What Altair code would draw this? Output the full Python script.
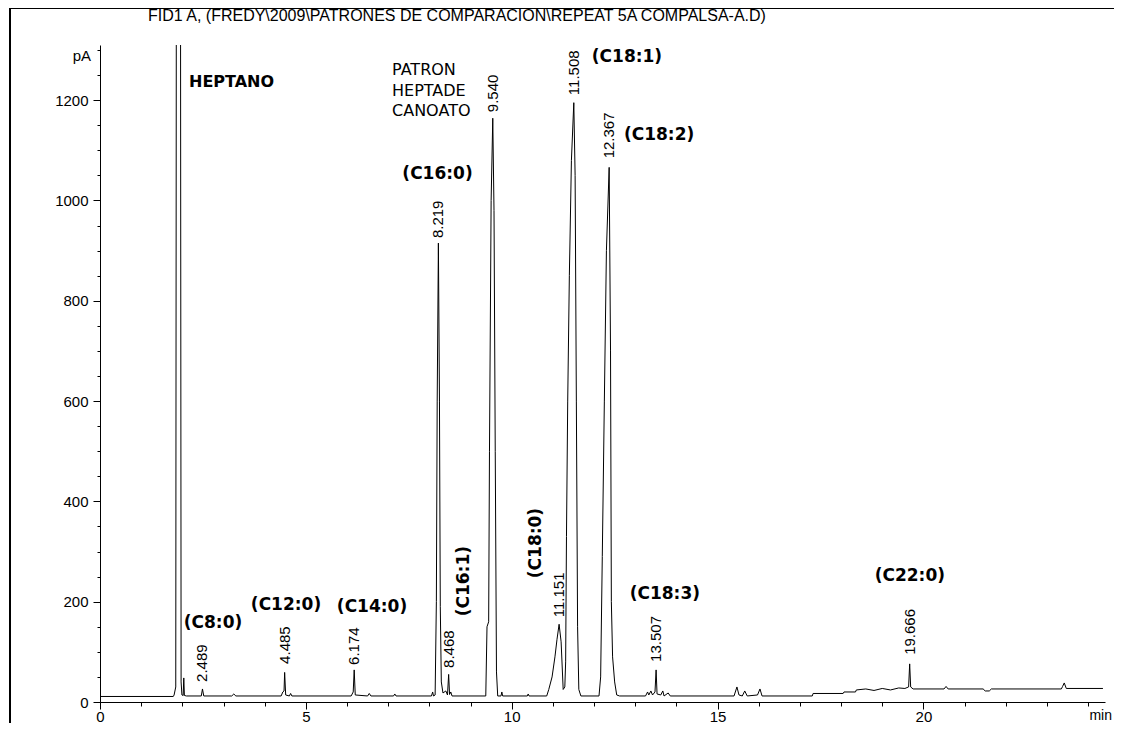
import altair as alt
import pandas as pd

# ---- chromatogram trace (retention time in min, signal in pA)
time_min = [0.0, 1.78, 1.80, 1.84, 1.855, 1.955, 1.97, 1.99, 2.02, 2.035, 2.05, 2.10,
            2.46, 2.489, 2.52, 3.20, 3.25, 3.30, 4.40, 4.44, 4.47, 4.485, 4.51, 4.60,
            4.63, 4.66, 6.10, 6.15, 6.174, 6.20, 6.50, 6.54, 6.58, 7.13, 7.16, 7.19,
            8.05, 8.08, 8.10, 8.14, 8.17, 8.19, 8.219, 8.245, 8.265, 8.29, 8.33, 8.40,
            8.44, 8.468, 8.49, 8.52, 8.55, 9.37, 9.40, 9.44, 9.46, 9.50, 9.54, 9.57,
            9.60, 9.63, 9.66, 9.74, 9.76, 9.78, 10.38, 10.40, 10.42, 10.85, 10.90, 10.98,
            11.05, 11.10, 11.151, 11.20, 11.25, 11.29, 11.31, 11.33, 11.36, 11.40, 11.45, 11.508,
            11.54, 11.57, 11.60, 11.63, 11.68, 12.12, 12.16, 12.20, 12.25, 12.30, 12.367, 12.40,
            12.42, 12.45, 12.50, 12.55, 12.62, 13.25, 13.30, 13.33, 13.38, 13.42, 13.48, 13.507,
            13.53, 13.62, 13.67, 13.70, 13.80, 13.85, 15.40, 15.47, 15.52, 15.60, 15.66, 15.72,
            15.97, 16.03, 16.08, 17.30, 17.32, 18.05, 18.07, 18.35, 18.37, 18.60, 18.80, 19.00,
            19.20, 19.40, 19.55, 19.64, 19.666, 19.69, 19.75, 20.50, 20.55, 20.60, 21.45, 21.50,
            21.60, 21.65, 23.35, 23.38, 23.42, 23.47, 24.36]
signal_pa = [11, 11, 14, 30, 1500, 1500, 40, 14, 13, 48, 13, 12,
             12, 26, 12, 12, 16, 12, 12, 20, 22, 59, 14, 12,
             17, 12, 12, 20, 64, 14, 12, 17, 12, 12, 16, 12,
             12, 20, 12, 14, 200, 600, 915, 600, 190, 40, 18, 22,
             14, 55, 15, 20, 12, 12, 150, 160, 500, 1000, 1164, 980,
             500, 60, 12, 12, 20, 12, 12, 16, 12, 12, 25, 50,
             90, 125, 155, 120, 25, 30, 80, 330, 600, 850, 1080, 1195,
             1050, 600, 150, 25, 12, 12, 50, 290, 600, 900, 1066, 700,
             200, 90, 40, 14, 12, 12, 20, 14, 22, 14, 20, 64,
             16, 14, 22, 12, 18, 12, 12, 30, 14, 12, 22, 12,
             14, 26, 12, 12, 17, 17, 20, 20, 24, 26, 23, 27,
             24, 28, 27, 30, 76, 30, 26, 26, 31, 26, 26, 22,
             22, 26, 26, 31, 38, 27, 27]

# ---- retention-time labels
rt_text = ["2.489", "4.485", "6.174", "8.219", "8.468", "9.540", "11.151", "11.508",
           "12.367", "13.507", "19.666"]
rt_time = [2.489, 4.485, 6.174, 8.219, 8.468, 9.540, 11.151, 11.508, 12.367, 13.507, 19.666]
rt_anchor = [40, 76, 74, 925, 68, 1176, 169, 1210, 1084, 80, 94]

# ---- compound labels (horizontal)
cmp_text = ["(C8:0)", "(C12:0)", "(C14:0)", "(C16:0)", "(C18:1)", "(C18:2)", "(C18:3)", "(C22:0)"]
cmp_time = [2.745, 4.518, 6.607, 8.198, 12.80, 13.58, 13.72, 19.67]
cmp_val = [157, 193, 189, 1052, 1286, 1130, 215, 251]

# ---- compound labels (vertical)
vcmp_text = ["(C16:1)", "(C18:0)"]
vcmp_time = [8.841, 10.59]
vcmp_val = [241, 317]

# ---- other annotations
solvent_text = ["HEPTANO"]
solvent_time = [2.162]
solvent_val = [1236]
std_text = ["PATRON", "HEPTADE", "CANOATO"]
std_time = [7.093, 7.093, 7.093]
std_val = [1260, 1218, 1178]

title_text = "FID1 A, (FREDY\\2009\\PATRONES DE COMPARACIÓN\\REPEAT 5A COMPALSA-A.D)"

x_major = [0, 5, 10, 15, 20]
x_minor = list(range(0, 25))
y_major = [0, 200, 400, 600, 800, 1000, 1200]
y_minor = list(range(0, 1301, 50))

W, H = 1005, 657
XDOM = [0, 24.41]
YDOM = [0, 1310]
NUMFONT = "Liberation Sans"

trace = pd.DataFrame({"t": time_min, "v": signal_pa})
rt_df = pd.DataFrame({"t": rt_time, "v": rt_anchor, "label": rt_text})
cmp_df = pd.DataFrame({"t": cmp_time, "v": cmp_val, "label": cmp_text})
vcmp_df = pd.DataFrame({"t": vcmp_time, "v": vcmp_val, "label": vcmp_text})
solv_df = pd.DataFrame({"t": solvent_time, "v": solvent_val, "label": solvent_text})
std_df = pd.DataFrame({"t": std_time, "v": std_val, "label": std_text})
one = pd.DataFrame({"a": [0]})

xs = alt.Scale(domain=XDOM, nice=False, zero=False)
ys = alt.Scale(domain=YDOM, nice=False, zero=False)


def X(axis=None):
    return alt.X("t:Q", scale=xs, axis=axis)


def Y(axis=None):
    return alt.Y("v:Q", scale=ys, axis=axis)


x_axis_major = alt.Axis(values=x_major, tickSize=7, labelFontSize=15, labelFont=NUMFONT,
                        labelColor="black", tickColor="black", domainColor="black",
                        grid=False, title=None, labelPadding=0, orient="bottom",
                        labelFlush=False, labelOverlap=False, format="d")
y_axis_major = alt.Axis(values=y_major, tickSize=7, labelFontSize=15, labelFont=NUMFONT,
                        labelColor="black", tickColor="black", domainColor="black",
                        grid=False, title=None, labelPadding=5, orient="left",
                        labelFlush=False, labelOverlap=False, format="d")
x_axis_minor = alt.Axis(values=x_minor, tickSize=4, labels=False, domain=False,
                        tickColor="black", grid=False, title=None, orient="bottom")
y_axis_minor = alt.Axis(values=y_minor, tickSize=3, labels=False, domain=False,
                        tickColor="black", grid=False, title=None, orient="left")

line = alt.Chart(trace).mark_line(color="black", strokeWidth=1, clip=True).encode(
    x=X(x_axis_major), y=Y(y_axis_major), order="t:Q")

minor = alt.Chart(trace).mark_point(opacity=0, size=0).encode(
    x=X(x_axis_minor), y=Y(y_axis_minor))

rt_layer = alt.Chart(rt_df).mark_text(angle=270, align="left", baseline="middle",
                                      font=NUMFONT, fontSize=15, color="black").encode(
    x=X(), y=Y(), text="label:N")

cmp_layer = alt.Chart(cmp_df).mark_text(align="center", baseline="middle",
                                        font="DejaVu Sans", fontWeight="bold",
                                        fontSize=17, color="black").encode(
    x=X(), y=Y(), text="label:N")

vcmp_layer = alt.Chart(vcmp_df).mark_text(angle=270, align="center", baseline="middle",
                                          font="DejaVu Sans", fontWeight="bold",
                                          fontSize=17, color="black").encode(
    x=X(), y=Y(), text="label:N")

solv_layer = alt.Chart(solv_df).mark_text(align="left", baseline="middle",
                                          font="DejaVu Sans", fontWeight="bold",
                                          fontSize=16, color="black").encode(
    x=X(), y=Y(), text="label:N")

std_layer = alt.Chart(std_df).mark_text(align="left", baseline="middle",
                                        font="DejaVu Sans", fontSize=16,
                                        color="black").encode(
    x=X(), y=Y(), text="label:N")

pa_label = alt.Chart(one).mark_text(text="pA", align="right", baseline="middle",
                                    font=NUMFONT, fontSize=15, color="black").encode(
    x=alt.value(-9), y=alt.value(11))
min_label = alt.Chart(one).mark_text(text="min", align="right", baseline="middle",
                                     font=NUMFONT, fontSize=14, color="black").encode(
    x=alt.value(W + 7), y=alt.value(H + 14))
title_layer = alt.Chart(one).mark_text(text=title_text, align="left", baseline="middle",
                                       font=NUMFONT, fontSize=16, color="black").encode(
    x=alt.value(48), y=alt.value(-29))
frame_left = alt.Chart(one).mark_rule(color="black", strokeWidth=2).encode(
    x=alt.value(-90), y=alt.value(-37), y2=alt.value(H + 21))
frame_top = alt.Chart(one).mark_rule(color="black", strokeWidth=1).encode(
    x=alt.value(-90), x2=alt.value(W + 9), y=alt.value(-36.5))

chart = alt.layer(
    line, minor, rt_layer, cmp_layer, vcmp_layer, solv_layer, std_layer,
    pa_label, min_label, title_layer, frame_left, frame_top
).resolve_axis(x="independent", y="independent").properties(
    width=W, height=H,
    autosize=alt.AutoSizeParams(type="none"),
    padding={"left": 92, "top": 37, "right": 9, "bottom": 21},
    background="white",
).configure_view(stroke=None)

chart.save("out.html", embed_options={"renderer": "svg", "actions": False})
